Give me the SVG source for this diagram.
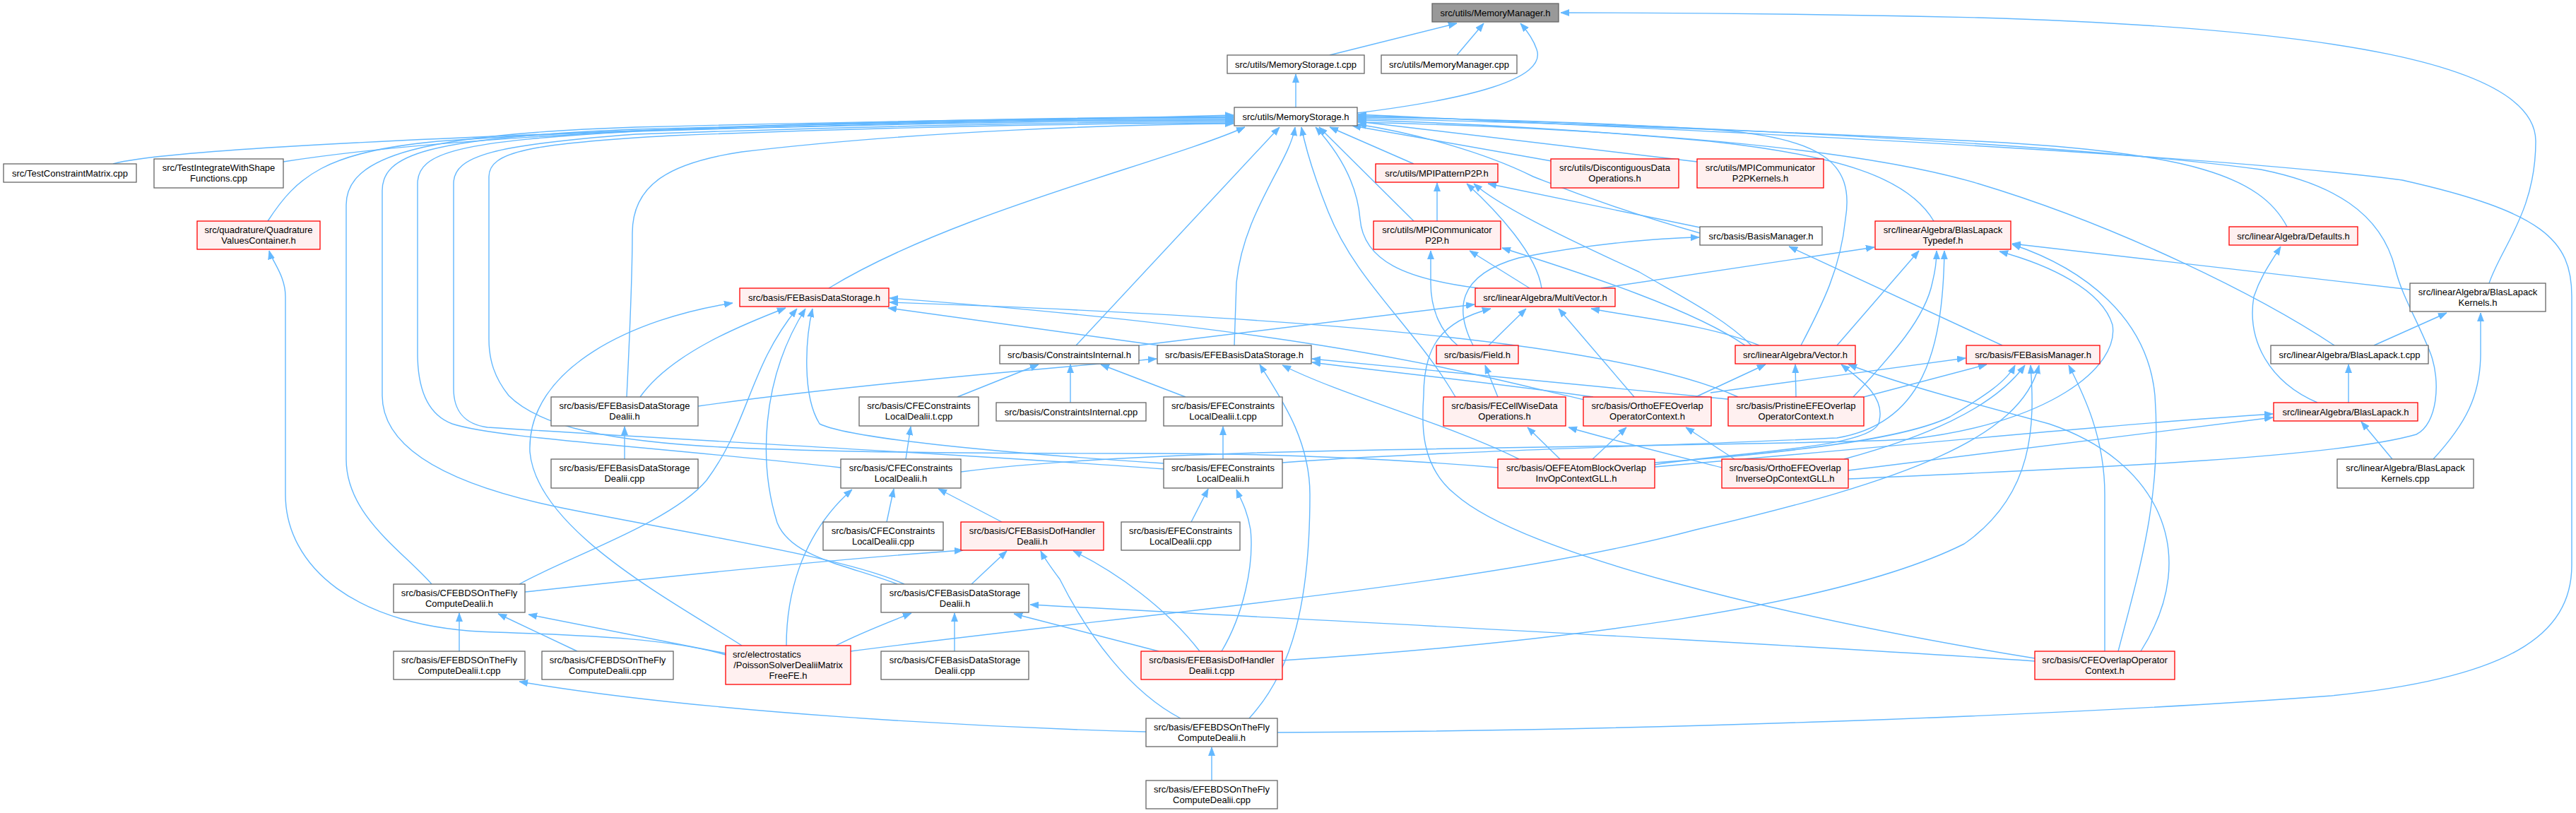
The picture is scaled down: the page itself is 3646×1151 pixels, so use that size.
<svg xmlns="http://www.w3.org/2000/svg" width="3646" height="1151" viewBox="0 0 3646 1151">
<style>
.node rect{stroke-width:1.3}
.w rect{fill:#ffffff;stroke:#666666}
.r rect{fill:#fff0f0;stroke:#ff0000}
.g rect{fill:#999999;stroke:#666666}
text{font-family:"Liberation Sans",Arial,Helvetica,sans-serif;font-size:13px;fill:#000;text-anchor:middle}
#edges path{fill:none;stroke:#63b8ff;stroke-width:1.4;marker-end:url(#a)}
</style>
<defs>
<marker id="a" viewBox="0 0 12 10" refX="12" refY="5" markerWidth="12" markerHeight="10" markerUnits="userSpaceOnUse" orient="auto"><path d="M0,0.5 L12,5 L0,9.5 z" fill="#63b8ff" stroke="#63b8ff" stroke-width="0.8"/></marker>
</defs>
<rect width="3646" height="1151" fill="#ffffff"/>
<g id="edges">
<path d="M1882,78 L2062,33"/>
<path d="M2062,78 L2100,33"/>
<path d="M1921,160 C2080,140 2190,112 2175,70 C2170,55 2160,42 2152,33"/>
<path d="M3523,401 C3540,350 3589,300 3589,200 C3589,90 3300,40 2800,25 C2500,18 2300,18 2209,18"/>
<path d="M1834,152 L1834,105"/>
<path d="M160,232 C220,215 500,200 900,185 C1300,172 1600,165 1746,163"/>
<path d="M401,229 C700,182 1300,168 1746,165"/>
<path d="M379,313 C420,250 460,215 620,200 C900,180 1400,168 1746,166"/>
<path d="M611,827 C570,780 490,730 490,650 L490,290 C490,220 600,190 900,180 C1300,170 1600,167 1746,167"/>
<path d="M1280,827 C1200,790 1000,760 800,720 C600,680 541,620 541,560 L541,270 C541,220 600,195 900,183 C1300,172 1600,169 1746,169"/>
<path d="M1190,662 C900,630 700,620 640,600 C600,585 591,540 591,500 L591,260 C591,215 650,200 900,186 C1300,174 1600,170 1746,170"/>
<path d="M1647,664 C1400,645 1000,625 690,605 C655,600 642,580 642,550 L642,260 C642,220 700,205 900,190 C1300,176 1600,172 1746,172"/>
<path d="M2120,662 C1950,648 1800,642 1640,642 C1400,642 1200,640 1100,636 C850,630 760,600 720,560 C700,535 692,510 692,480 L692,250 C692,215 750,203 950,192 C1300,178 1600,174 1746,174"/>
<path d="M887,562 C890,500 895,400 895,330 C895,260 950,230 1050,215 C1300,185 1600,176 1746,175"/>
<path d="M1173,408 C1350,300 1650,230 1762,180"/>
<path d="M1523,489 L1811,180"/>
<path d="M1747,489 L1750,400 C1760,300 1825,230 1833,180"/>
<path d="M2060,562 C2000,460 1920,400 1880,300 C1860,250 1848,210 1842,180"/>
<path d="M2001,232 L1882,180"/>
<path d="M2196,228 L1914,178"/>
<path d="M2402,229 L1922,172"/>
<path d="M2001,313 L1867,180"/>
<path d="M2092,408 C1990,395 1930,370 1925,310 C1920,250 1885,205 1862,180"/>
<path d="M2737,313 C2700,250 2600,220 2420,200 C2200,180 2000,172 1922,170"/>
<path d="M3237,321 C3200,250 3100,215 2800,200 C2400,180 2050,170 1922,168"/>
<path d="M2549,489 C2580,430 2605,380 2612,310 C2625,230 2580,195 2420,183 C2200,170 2000,167 1922,166"/>
<path d="M3304,489 C3200,420 3000,320 2800,260 C2600,200 2200,180 1922,173"/>
<path d="M2616,678 C2900,665 3300,650 3420,615 C3450,600 3455,540 3440,500 C3420,450 3400,420 3390,380 C3370,300 3300,260 3200,240 C2900,200 2300,175 1922,164"/>
<path d="M1808,1037 C2300,1035 2900,1015 3300,985 C3550,960 3640,900 3640,800 L3640,420 C3640,340 3600,300 3400,255 C3100,215 2300,180 1922,162"/>
<path d="M2406,330 C2300,300 2220,270 2170,250 C2100,215 2000,188 1922,176"/>
<path d="M2034,313 L2034,259"/>
<path d="M2406,322 L2106,260"/>
<path d="M2182,408 C2175,360 2120,300 2076,260"/>
<path d="M2479,489 C2440,450 2380,420 2320,385 C2200,330 2120,290 2086,260"/>
<path d="M2063,489 C2040,470 2025,440 2025,400 L2025,355"/>
<path d="M2165,408 L2080,355"/>
<path d="M2470,489 C2400,440 2250,390 2126,351"/>
<path d="M2834,489 L2532,349"/>
<path d="M2085,489 C2060,440 2060,390 2150,365 C2250,345 2350,337 2405,336"/>
<path d="M2266,408 L2653,350"/>
<path d="M2600,489 L2716,355"/>
<path d="M2623,562 C2680,500 2725,450 2735,400 C2740,380 2741,370 2741,355"/>
<path d="M1815,655 C2000,640 2400,630 2600,620 C2720,600 2750,500 2752,355"/>
<path d="M1360,668 C1500,650 1700,642 1900,638 C2300,630 2600,628 2700,622 C2900,600 3000,520 2990,460 C2975,410 2900,375 2830,356"/>
<path d="M3411,410 L2848,345"/>
<path d="M2979,922 L2979,700 C2979,620 2950,560 2928,517"/>
<path d="M2998,922 C3030,800 3060,700 3050,560 C3040,450 2950,380 2848,346"/>
<path d="M3030,922 C3120,780 3050,650 2900,600 C2750,560 2680,540 2616,516"/>
<path d="M2880,932 C2500,870 2150,780 2060,700 C2010,660 2012,600 2015,560 C2015,490 2040,455 2110,437"/>
<path d="M2880,936 C2500,910 1900,880 1458,856"/>
<path d="M3360,489 L3463,443"/>
<path d="M3444,650 C3490,600 3511,560 3511,500 L3511,443"/>
<path d="M3324,570 L3324,516"/>
<path d="M3280,570 C3210,540 3180,480 3190,420 C3200,390 3215,370 3228,349"/>
<path d="M3386,650 L3342,597"/>
<path d="M2616,666 L3217,591"/>
<path d="M2342,661 C2700,630 3000,600 3217,586"/>
<path d="M2542,562 L2541,516"/>
<path d="M2400,562 L2499,516"/>
<path d="M2342,658 C2450,640 2660,635 2660,595 C2668,560 2630,535 2606,516"/>
<path d="M2421,556 L2782,507"/>
<path d="M2638,562 L2812,516"/>
<path d="M2342,655 C2550,640 2700,620 2760,590 C2810,560 2840,540 2852,517"/>
<path d="M2610,650 C2720,620 2820,580 2866,517"/>
<path d="M1815,935 C2200,910 2600,860 2780,770 C2880,700 2880,600 2874,517"/>
<path d="M1204,922 C1600,870 2100,830 2400,750 C2700,680 2860,620 2886,517"/>
<path d="M2208,650 L2162,605"/>
<path d="M2254,650 L2302,605"/>
<path d="M2455,650 L2386,605"/>
<path d="M2437,662 C2350,640 2270,620 2220,605"/>
<path d="M2120,562 L2102,517"/>
<path d="M2107,489 L2160,437"/>
<path d="M2313,562 L2206,437"/>
<path d="M2490,489 C2420,460 2320,450 2252,437"/>
<path d="M1612,489 L2087,431"/>
<path d="M1640,489 L1257,436"/>
<path d="M906,562 C950,500 1050,460 1112,436"/>
<path d="M735,827 C800,790 950,740 1000,680 C1060,600 1060,520 1128,437"/>
<path d="M1050,914 C950,850 760,750 750,640 C745,520 900,450 1037,429"/>
<path d="M1113,914 C1113,850 1130,760 1206,693"/>
<path d="M1270,827 C1200,800 1120,790 1100,740 C1075,660 1075,540 1140,437"/>
<path d="M1647,656 C1400,640 1200,620 1160,600 C1135,560 1140,480 1150,437"/>
<path d="M2243,566 C2100,535 1900,470 1259,422"/>
<path d="M2460,562 C2300,490 1900,450 1259,428"/>
<path d="M2455,566 C2200,540 2000,520 1857,508"/>
<path d="M2255,562 C2100,540 1950,525 1857,513"/>
<path d="M1768,1017 C1830,950 1854,850 1854,700 C1854,620 1810,560 1783,516"/>
<path d="M2150,650 C2050,600 1900,560 1815,517"/>
<path d="M988,575 C1200,545 1500,520 1637,508"/>
<path d="M1355,562 L1470,516"/>
<path d="M1515,570 L1515,516"/>
<path d="M1678,562 L1558,516"/>
<path d="M1282,650 L1289,604"/>
<path d="M1731,650 L1731,604"/>
<path d="M1255,739 L1265,692"/>
<path d="M1418,739 L1328,692"/>
<path d="M1686,739 L1710,692"/>
<path d="M1729,922 C1760,870 1775,800 1770,750 C1765,720 1755,705 1750,693"/>
<path d="M1375,827 L1425,780"/>
<path d="M1698,922 C1650,860 1580,810 1519,780"/>
<path d="M1671,1017 C1600,980 1540,900 1500,820 C1485,800 1478,790 1473,780"/>
<path d="M743,838 C1000,810 1200,790 1363,779"/>
<path d="M1351,922 L1351,868"/>
<path d="M1640,922 L1435,869"/>
<path d="M1183,914 C1220,895 1260,880 1290,868"/>
<path d="M650,922 L650,868"/>
<path d="M817,922 L705,869"/>
<path d="M1027,925 L748,870"/>
<path d="M1027,927 C950,905 850,900 700,895 C500,890 404,800 404,700 L404,420 C404,390 385,370 381,355"/>
<path d="M1622,1036 C1400,1030 1000,1010 735,965"/>
<path d="M1715,1105 L1715,1058"/>
<path d="M884,650 L884,604"/>
</g>
<g id="n0" class="node g"><rect x="2027" y="5" width="179" height="26"/><text x="2116.5" y="22.5">src/utils/MemoryManager.h</text></g>
<g id="n1" class="node w"><rect x="1737" y="78" width="194" height="26"/><text x="1834" y="95.5">src/utils/MemoryStorage.t.cpp</text></g>
<g id="n2" class="node w"><rect x="1955" y="78" width="192" height="26"/><text x="2051" y="95.5">src/utils/MemoryManager.cpp</text></g>
<g id="n3" class="node w"><rect x="1747" y="152" width="174" height="26"/><text x="1834" y="169.5">src/utils/MemoryStorage.h</text></g>
<g id="n4" class="node w"><rect x="5" y="232" width="188" height="26"/><text x="99" y="249.5">src/TestConstraintMatrix.cpp</text></g>
<g id="n5" class="node w"><rect x="218" y="225" width="183" height="41"/><text x="309.5" y="241.5">src/TestIntegrateWithShape</text><text x="309.5" y="256.5">Functions.cpp</text></g>
<g id="n6" class="node r"><rect x="279" y="313" width="174" height="40"/><text x="366" y="329.5">src/quadrature/Quadrature</text><text x="366" y="344.5">ValuesContainer.h</text></g>
<g id="n7" class="node r"><rect x="1947" y="232" width="173" height="26"/><text x="2033.5" y="249.5">src/utils/MPIPatternP2P.h</text></g>
<g id="n8" class="node r"><rect x="2195" y="225" width="181" height="41"/><text x="2285.5" y="241.5">src/utils/DiscontiguousData</text><text x="2285.5" y="256.5">Operations.h</text></g>
<g id="n9" class="node r"><rect x="2402" y="225" width="179" height="41"/><text x="2491.5" y="241.5">src/utils/MPICommunicator</text><text x="2491.5" y="256.5">P2PKernels.h</text></g>
<g id="n10" class="node w"><rect x="2406" y="321" width="173" height="26"/><text x="2492.5" y="338.5">src/basis/BasisManager.h</text></g>
<g id="n11" class="node r"><rect x="1944" y="313" width="180" height="40"/><text x="2034" y="329.5">src/utils/MPICommunicator</text><text x="2034" y="344.5">P2P.h</text></g>
<g id="n12" class="node r"><rect x="2654" y="313" width="192" height="40"/><text x="2750" y="329.5">src/linearAlgebra/BlasLapack</text><text x="2750" y="344.5">Typedef.h</text></g>
<g id="n13" class="node r"><rect x="3155" y="321" width="182" height="26"/><text x="3246" y="338.5">src/linearAlgebra/Defaults.h</text></g>
<g id="n14" class="node r"><rect x="1047" y="408" width="211" height="26"/><text x="1152.5" y="425.5">src/basis/FEBasisDataStorage.h</text></g>
<g id="n15" class="node r"><rect x="2088" y="408" width="198" height="26"/><text x="2187" y="425.5">src/linearAlgebra/MultiVector.h</text></g>
<g id="n16" class="node w"><rect x="3411" y="401" width="192" height="40"/><text x="3507" y="417.5">src/linearAlgebra/BlasLapack</text><text x="3507" y="432.5">Kernels.h</text></g>
<g id="n17" class="node w"><rect x="1415" y="489" width="197" height="26"/><text x="1513.5" y="506.5">src/basis/ConstraintsInternal.h</text></g>
<g id="n18" class="node w"><rect x="1638" y="489" width="218" height="26"/><text x="1747" y="506.5">src/basis/EFEBasisDataStorage.h</text></g>
<g id="n19" class="node r"><rect x="2033" y="489" width="116" height="26"/><text x="2091" y="506.5">src/basis/Field.h</text></g>
<g id="n20" class="node r"><rect x="2456" y="489" width="170" height="26"/><text x="2541" y="506.5">src/linearAlgebra/Vector.h</text></g>
<g id="n21" class="node r"><rect x="2783" y="489" width="189" height="26"/><text x="2877.5" y="506.5">src/basis/FEBasisManager.h</text></g>
<g id="n22" class="node w"><rect x="3214" y="489" width="223" height="26"/><text x="3325.5" y="506.5">src/linearAlgebra/BlasLapack.t.cpp</text></g>
<g id="n23" class="node w"><rect x="780" y="562" width="208" height="41"/><text x="884" y="578.5">src/basis/EFEBasisDataStorage</text><text x="884" y="593.5">Dealii.h</text></g>
<g id="n24" class="node w"><rect x="1216" y="562" width="169" height="41"/><text x="1300.5" y="578.5">src/basis/CFEConstraints</text><text x="1300.5" y="593.5">LocalDealii.t.cpp</text></g>
<g id="n25" class="node w"><rect x="1410" y="570" width="212" height="26"/><text x="1516" y="587.5">src/basis/ConstraintsInternal.cpp</text></g>
<g id="n26" class="node w"><rect x="1647" y="562" width="168" height="41"/><text x="1731" y="578.5">src/basis/EFEConstraints</text><text x="1731" y="593.5">LocalDealii.t.cpp</text></g>
<g id="n27" class="node r"><rect x="2043" y="562" width="173" height="41"/><text x="2129.5" y="578.5">src/basis/FECellWiseData</text><text x="2129.5" y="593.5">Operations.h</text></g>
<g id="n28" class="node r"><rect x="2241" y="562" width="181" height="41"/><text x="2331.5" y="578.5">src/basis/OrthoEFEOverlap</text><text x="2331.5" y="593.5">OperatorContext.h</text></g>
<g id="n29" class="node r"><rect x="2446" y="562" width="192" height="41"/><text x="2542" y="578.5">src/basis/PristineEFEOverlap</text><text x="2542" y="593.5">OperatorContext.h</text></g>
<g id="n30" class="node r"><rect x="3218" y="570" width="204" height="26"/><text x="3320" y="587.5">src/linearAlgebra/BlasLapack.h</text></g>
<g id="n31" class="node w"><rect x="780" y="650" width="208" height="41"/><text x="884" y="666.5">src/basis/EFEBasisDataStorage</text><text x="884" y="681.5">Dealii.cpp</text></g>
<g id="n32" class="node w"><rect x="1190" y="650" width="170" height="41"/><text x="1275" y="666.5">src/basis/CFEConstraints</text><text x="1275" y="681.5">LocalDealii.h</text></g>
<g id="n33" class="node w"><rect x="1647" y="650" width="168" height="41"/><text x="1731" y="666.5">src/basis/EFEConstraints</text><text x="1731" y="681.5">LocalDealii.h</text></g>
<g id="n34" class="node r"><rect x="2120" y="650" width="222" height="41"/><text x="2231" y="666.5">src/basis/OEFEAtomBlockOverlap</text><text x="2231" y="681.5">InvOpContextGLL.h</text></g>
<g id="n35" class="node r"><rect x="2437" y="650" width="179" height="41"/><text x="2526.5" y="666.5">src/basis/OrthoEFEOverlap</text><text x="2526.5" y="681.5">InverseOpContextGLL.h</text></g>
<g id="n36" class="node w"><rect x="3308" y="650" width="193" height="41"/><text x="3404.5" y="666.5">src/linearAlgebra/BlasLapack</text><text x="3404.5" y="681.5">Kernels.cpp</text></g>
<g id="n37" class="node w"><rect x="1165" y="739" width="170" height="40"/><text x="1250" y="755.5">src/basis/CFEConstraints</text><text x="1250" y="770.5">LocalDealii.cpp</text></g>
<g id="n38" class="node r"><rect x="1360" y="739" width="202" height="40"/><text x="1461" y="755.5">src/basis/CFEBasisDofHandler</text><text x="1461" y="770.5">Dealii.h</text></g>
<g id="n39" class="node w"><rect x="1587" y="739" width="168" height="40"/><text x="1671" y="755.5">src/basis/EFEConstraints</text><text x="1671" y="770.5">LocalDealii.cpp</text></g>
<g id="n40" class="node w"><rect x="557" y="827" width="186" height="40"/><text x="650" y="843.5">src/basis/CFEBDSOnTheFly</text><text x="650" y="858.5">ComputeDealii.h</text></g>
<g id="n41" class="node w"><rect x="1247" y="827" width="209" height="40"/><text x="1351.5" y="843.5">src/basis/CFEBasisDataStorage</text><text x="1351.5" y="858.5">Dealii.h</text></g>
<g id="n42" class="node w"><rect x="557" y="922" width="186" height="40"/><text x="650" y="938.5">src/basis/EFEBDSOnTheFly</text><text x="650" y="953.5">ComputeDealii.t.cpp</text></g>
<g id="n43" class="node w"><rect x="767" y="922" width="186" height="40"/><text x="860" y="938.5">src/basis/CFEBDSOnTheFly</text><text x="860" y="953.5">ComputeDealii.cpp</text></g>
<g id="n44" class="node r"><rect x="1027" y="914" width="177" height="55"/><text x="1037" y="931" style="text-anchor:start">src/electrostatics</text><text x="1115.5" y="946">/PoissonSolverDealiiMatrix</text><text x="1115.5" y="961">FreeFE.h</text></g>
<g id="n45" class="node w"><rect x="1247" y="922" width="209" height="40"/><text x="1351.5" y="938.5">src/basis/CFEBasisDataStorage</text><text x="1351.5" y="953.5">Dealii.cpp</text></g>
<g id="n46" class="node r"><rect x="1615" y="922" width="200" height="40"/><text x="1715" y="938.5">src/basis/EFEBasisDofHandler</text><text x="1715" y="953.5">Dealii.t.cpp</text></g>
<g id="n47" class="node r"><rect x="2880" y="922" width="198" height="40"/><text x="2979" y="938.5">src/basis/CFEOverlapOperator</text><text x="2979" y="953.5">Context.h</text></g>
<g id="n48" class="node w"><rect x="1622" y="1017" width="186" height="40"/><text x="1715" y="1033.5">src/basis/EFEBDSOnTheFly</text><text x="1715" y="1048.5">ComputeDealii.h</text></g>
<g id="n49" class="node w"><rect x="1622" y="1105" width="186" height="40"/><text x="1715" y="1121.5">src/basis/EFEBDSOnTheFly</text><text x="1715" y="1136.5">ComputeDealii.cpp</text></g>
</svg>
